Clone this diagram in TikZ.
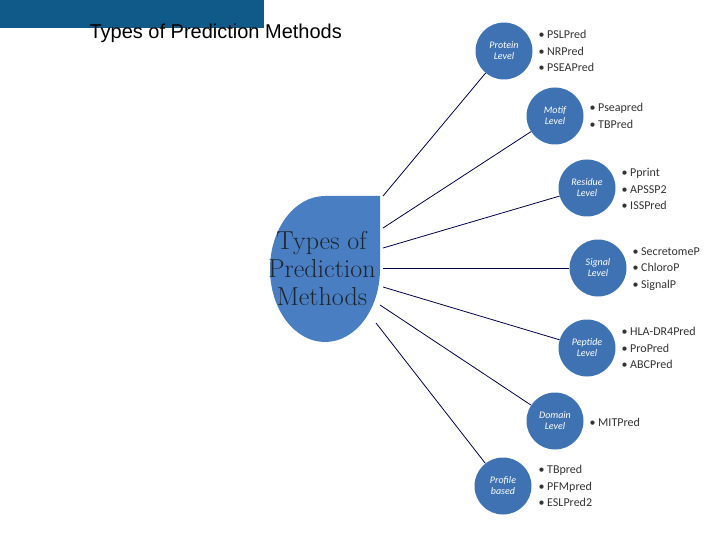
\documentclass[tikz,border=0pt]{standalone}
\usepackage{fontspec}
\setmainfont{Latin Modern Roman}
\newfontfamily\carfont{Carlito}
\newfontfamily\arsfont{Liberation Sans}
\definecolor{bar}{HTML}{105A8A}
\definecolor{blob}{HTML}{4A7EC2}
\definecolor{circ}{HTML}{3F72B2}
\definecolor{dtext}{HTML}{1C2530}
\definecolor{btext}{HTML}{333333}
\begin{document}
\begin{tikzpicture}[x=1pt,y=-1pt,
  lvl/.style={circle,fill=circ,minimum size=57pt,inner sep=0pt,text=white,align=center,font=\carfont\itshape\fontsize{10}{11}\selectfont},
  lst/.style={anchor=west,align=left,text=btext,font=\carfont\fontsize{12}{16.5}\selectfont},
  conn/.style={draw=black!70!blue,line width=0.8pt}]
\useasboundingbox (0,0) rectangle (720,540);
\fill[bar] (0,0) rectangle (264,28);
\node[anchor=west,font=\arsfont\fontsize{20}{22}\selectfont] (title) at (86,33) {Types of Prediction Methods};
% central blob
\fill[blob] (380,196) -- (380,269) arc[start angle=0,end angle=270,x radius=55,y radius=73] -- cycle;
\node[text=dtext,align=center,font=\fontsize{26}{30}\selectfont] (main) at (322,268) {\textsc{Types of}\\[-2pt]\textsc{Prediction}\\[-2pt]\textsc{Methods}};
\node[lvl] (p1) at (504,51) {Protein\\Level};
\node[lvl] (p2) at (555,116) {Motif\\Level};
\node[lvl] (p3) at (587,188) {Residue\\Level};
\node[lvl] (p4) at (598,268) {Signal\\Level};
\node[lvl] (p5) at (587,348) {Peptide\\Level};
\node[lvl] (p6) at (555,421) {Domain\\Level};
\node[lvl] (p7) at (503,486) {Profile\\based};
\coordinate (s1) at (383,196);
\coordinate (s2) at (383,228);
\coordinate (s3) at (383,248);
\coordinate (s4) at (383,268);
\coordinate (s5) at (383,287);
\coordinate (s6) at (380,305);
\coordinate (s7) at (376,323);
\foreach \i in {1,...,7}{\draw[conn] (s\i) -- (p\i);}
\node[lst] (l1) at (535,51) {• PSLPred\\• NRPred\\• PSEAPred};
\node[lst] (l2) at (586,116) {• Pseapred\\• TBPred};
\node[lst] (l3) at (618,189) {• Pprint\\• APSSP2\\• ISSPred};
\node[lst] (l4) at (629,269) {• SecretomeP\\• ChloroP\\• SignalP};
\node[lst] (l5) at (618,348) {• HLA-DR4Pred\\• ProPred\\• ABCPred};
\node[lst] (l6) at (586,422) {• MITPred};
\node[lst] (l7) at (535,486) {• TBpred\\• PFMpred\\• ESLPred2};
\end{tikzpicture}
\end{document}
